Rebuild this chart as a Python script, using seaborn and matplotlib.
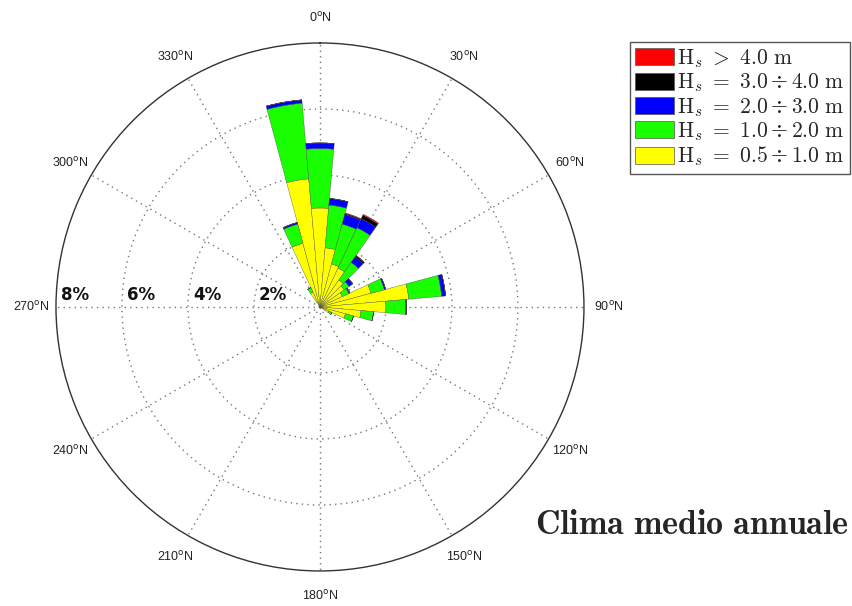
import numpy as np
import matplotlib
matplotlib.use("Agg")
import matplotlib.pyplot as plt
from matplotlib.patches import Patch
import seaborn as sns

# direzioni (gradi N) e frequenze (%) per classe di altezza d'onda
direzioni = [330, 340, 350, 0, 10, 20, 30, 40, 50, 60, 70, 80, 90, 100, 110, 120]
hs_05_10 = [0.5, 2.0, 3.9, 3.0, 1.8, 1.35, 1.3, 1.0, 0.9, 0.75, 1.6, 2.7, 2.0, 1.25, 0.8, 0.3]
hs_10_20 = [0.15, 0.6, 2.3, 1.8, 1.3, 1.25, 1.35, 0.65, 0.18, 0.22, 0.42, 1.0, 0.6, 0.38, 0.25, 0.1]
hs_20_30 = [0, 0.05, 0.1, 0.17, 0.2, 0.3, 0.3, 0.2, 0.12, 0.03, 0.04, 0.12, 0.03, 0, 0, 0]
hs_30_40 = [0, 0, 0, 0, 0, 0.03, 0.12, 0.05, 0.02, 0, 0, 0, 0, 0, 0, 0]
hs_40 = [0, 0, 0, 0, 0, 0.02, 0.03, 0.01, 0, 0, 0, 0, 0, 0, 0, 0]

classi = [hs_05_10, hs_10_20, hs_20_30, hs_30_40, hs_40]
colori = ['#ffff00', '#1aff00', '#0000ff', '#000000', '#ff0000']
etichette = [r'$\mathrm{H}_s\ =\ 0.5\div1.0\ \mathrm{m}$',
             r'$\mathrm{H}_s\ =\ 1.0\div2.0\ \mathrm{m}$',
             r'$\mathrm{H}_s\ =\ 2.0\div3.0\ \mathrm{m}$',
             r'$\mathrm{H}_s\ =\ 3.0\div4.0\ \mathrm{m}$',
             r'$\mathrm{H}_s\ >\ 4.0\ \mathrm{m}$']
anelli = [2, 4, 6, 8]
angoli = list(range(0, 360, 30))

sns.set_theme(style="white")
plt.rcParams['font.family'] = ['Liberation Sans', 'DejaVu Sans']
plt.rcParams['mathtext.fontset'] = 'cm'

fig = plt.figure(figsize=(8.52, 6.06), dpi=100)
ax = fig.add_axes([0.0657, 0.0578, 0.6197, 0.8713], projection='polar')
ax.set_theta_zero_location('N')
ax.set_theta_direction(-1)

theta = np.deg2rad(direzioni)
base = np.zeros(len(direzioni))
for vals, col in zip(classi, colori):
    vals = np.array(vals)
    ax.bar(theta, vals, width=np.deg2rad(10), bottom=base, color=col,
           edgecolor='#444444', linewidth=0.25, zorder=3)
    base = base + vals

ax.set_ylim(0, 8)
ax.set_thetagrids(angoli, [''] * len(angoli))
ax.set_rgrids([2, 4, 6], [''] * 3)
ax.grid(True, linestyle=(0, (1, 3)), linewidth=1.0, color='#777777')
ax.set_axisbelow(True)
ax.spines['polar'].set_color('#333333')
ax.spines['polar'].set_linewidth(1.0)

for a in angoli:
    ax.text(np.deg2rad(a), 8.75, f'{a}' + r'$^{\mathrm{o}}$' + 'N', ha='center', va='center',
            fontsize=9, color='#222222', math_fontfamily='dejavusans')

for r in anelli:
    ax.annotate(f'{r}%', xy=(np.deg2rad(270), r - 0.15), xytext=(0, 2),
                textcoords='offset points', ha='left', va='bottom',
                fontsize=12, fontweight='bold', color='#111111', family='DejaVu Sans')

handles = [Patch(facecolor=c, edgecolor='#555555', linewidth=0.5) for c in colori[::-1]]
leg = fig.legend(handles, etichette[::-1], loc='upper right', bbox_to_anchor=(0.998, 0.931),
                 fontsize=15.5, handlelength=1.8, handleheight=0.85, labelspacing=0.08,
                 handletextpad=0.15, borderpad=0.25, borderaxespad=0.0, fancybox=False,
                 framealpha=1)
leg.get_frame().set_edgecolor('#555555')
leg.get_frame().set_linewidth(1.0)

fig.text(0.996, 1 - 525 / 606, r'$\mathbf{Clima\ medio\ annuale}$', ha='right', va='center',
         fontsize=24.5)

fig.savefig('out.png', dpi=100)
